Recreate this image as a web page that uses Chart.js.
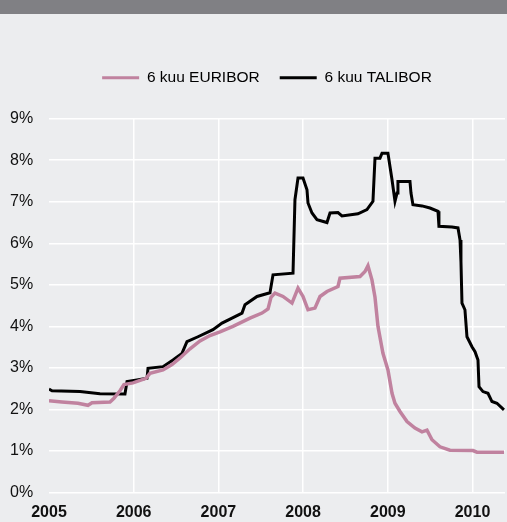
<!DOCTYPE html>
<html><head><meta charset="utf-8">
<script src="https://cdn.jsdelivr.net/npm/chart.js@4"></script>
<style>
html,body{margin:0;padding:0;background:#ECEDEF;}
#wrap{width:507px;height:522px;position:relative;}
</style>
</head><body>
<div id="wrap"><canvas id="c" width="507" height="522"></canvas></div>
<script>
const seriesNames = ['6 kuu EURIBOR', '6 kuu TALIBOR'];
const euriborYears = [2005.000,2005.153,2005.342,2005.460,2005.508,2005.720,2005.767,2005.838,2005.885,2005.992,2006.145,2006.192,2006.346,2006.452,2006.547,2006.665,2006.783,2006.901,2007.019,2007.172,2007.373,2007.515,2007.586,2007.621,2007.668,2007.763,2007.869,2007.940,2007.999,2008.058,2008.140,2008.200,2008.282,2008.412,2008.436,2008.672,2008.731,2008.766,2008.813,2008.849,2008.884,2008.943,2009.002,2009.050,2009.085,2009.144,2009.227,2009.321,2009.404,2009.463,2009.522,2009.616,2009.734,2010.006,2010.053,2010.372];
const euriborValues = [2.21,2.18,2.15,2.10,2.16,2.18,2.27,2.45,2.60,2.64,2.75,2.87,2.95,3.08,3.24,3.46,3.65,3.78,3.87,4.00,4.20,4.32,4.42,4.70,4.80,4.72,4.56,4.92,4.72,4.40,4.44,4.72,4.84,4.96,5.16,5.20,5.32,5.46,5.12,4.70,4.00,3.35,2.95,2.39,2.15,1.95,1.71,1.55,1.46,1.50,1.27,1.10,1.02,1.01,0.97,0.97];
const taliborYears = [2005.000,2005.035,2005.366,2005.602,2005.897,2005.921,2006.039,2006.157,2006.169,2006.346,2006.464,2006.570,2006.629,2006.759,2006.936,2007.043,2007.161,2007.279,2007.314,2007.456,2007.609,2007.645,2007.881,2007.904,2007.940,2007.999,2008.046,2008.058,2008.105,2008.164,2008.282,2008.318,2008.412,2008.459,2008.648,2008.754,2008.825,2008.849,2008.908,2008.932,2009.002,2009.026,2009.050,2009.085,2009.109,2009.120,2009.262,2009.274,2009.297,2009.404,2009.498,2009.593,2009.604,2009.758,2009.829,2009.853,2009.864,2009.876,2009.911,2009.935,2009.994,2010.030,2010.065,2010.077,2010.124,2010.183,2010.230,2010.289,2010.372];
const taliborValues = [2.49,2.45,2.43,2.38,2.37,2.67,2.71,2.75,2.99,3.03,3.19,3.35,3.63,3.75,3.92,4.08,4.20,4.32,4.52,4.72,4.81,5.24,5.28,7.05,7.57,7.57,7.29,6.97,6.73,6.57,6.50,6.73,6.74,6.66,6.71,6.81,7.01,8.05,8.05,8.17,8.17,7.85,7.53,7.01,7.21,7.49,7.49,7.21,6.93,6.90,6.85,6.77,6.41,6.39,6.37,6.08,5.56,4.56,4.40,3.75,3.51,3.39,3.19,2.55,2.43,2.39,2.19,2.15,1.99];
const xTickYears = [2005, 2006, 2007, 2008, 2009, 2010];
const yTickValues = [0,1,2,3,4,5,6,7,8,9];

const toPts = (xs, ys) => xs.map((x, i) => ({x: x, y: ys[i]}));

const layoutTweaks = {
  id: 'layoutTweaks',
  afterInit(chart) {
    const lg = chart.legend;
    if (lg) {
      const orig = lg.fit.bind(lg);
      lg.fit = function () { orig(); this.height = 68.7; };
    }
  },
  afterLayout(chart) {
    if (chart.legend) { chart.legend.left += 9.5; chart.legend.right += 9.5; }
  },
  beforeDraw(chart) {
    const ctx = chart.ctx;
    ctx.save();
    ctx.fillStyle = '#ECEDEF';
    ctx.fillRect(0, 0, chart.width, chart.height);
    ctx.fillStyle = '#808084';
    ctx.fillRect(0, 0, chart.width, 14);
    ctx.restore();
  }
};

new Chart(document.getElementById('c'), {
  type: 'line',
  data: {
    datasets: [
      {label: seriesNames[0], data: toPts(euriborYears, euriborValues), borderColor: '#C0829F', backgroundColor: '#C0829F', borderWidth: 3.5, pointRadius: 0, tension: 0},
      {label: seriesNames[1], data: toPts(taliborYears, taliborValues), borderColor: '#000000', backgroundColor: '#000000', borderWidth: 3, pointRadius: 0, tension: 0}
    ]
  },
  options: {
    responsive: false,
    animation: false,
    layout: {padding: {top: 50, left: 10, right: 2, bottom: 1}},
    plugins: {
      tooltip: {enabled: false},
      legend: {
        position: 'top',
        labels: {
          boxWidth: 37, boxHeight: 3, padding: 20,
          color: '#111',
          font: {family: 'Liberation Sans, Arial, sans-serif', size: 15.5},
          generateLabels(chart) {
            return chart.data.datasets.map((d, i) => ({
              text: d.label, fillStyle: d.borderColor, strokeStyle: d.borderColor,
              lineWidth: 0, hidden: false, datasetIndex: i
            }));
          }
        }
      }
    },
    scales: {
      x: {
        type: 'linear', min: 2005, max: 2010.384,
        afterBuildTicks(scale) { scale.ticks = xTickYears.map(v => ({value: v})); },
        afterFit(scale) { scale.height = 28.5; },
        ticks: {
          autoSkip: false, maxRotation: 0, padding: 10.5, color: '#111',
          font: {family: 'Liberation Sans, Arial, sans-serif', size: 16, weight: 'bold'},
          callback: v => String(v)
        },
        grid: {color: ctx => (ctx.tick && ctx.tick.value === 2005) ? 'rgba(0,0,0,0)' : '#FFFFFF', lineWidth: 1.5, drawTicks: false},
        border: {display: false}
      },
      y: {
        min: 0, max: 9,
        afterBuildTicks(scale) { scale.ticks = yTickValues.map(v => ({value: v})); },
        afterFit(scale) { scale.width = 39; },
        ticks: {
          crossAlign: 'far', padding: 8, color: '#111',
          font: {family: 'Liberation Sans, Arial, sans-serif', size: 16},
          callback: v => v + '%'
        },
        grid: {color: '#FFFFFF', lineWidth: 1.5, drawTicks: false},
        border: {display: false}
      }
    }
  },
  plugins: [layoutTweaks]
});
</script>
</body></html>
